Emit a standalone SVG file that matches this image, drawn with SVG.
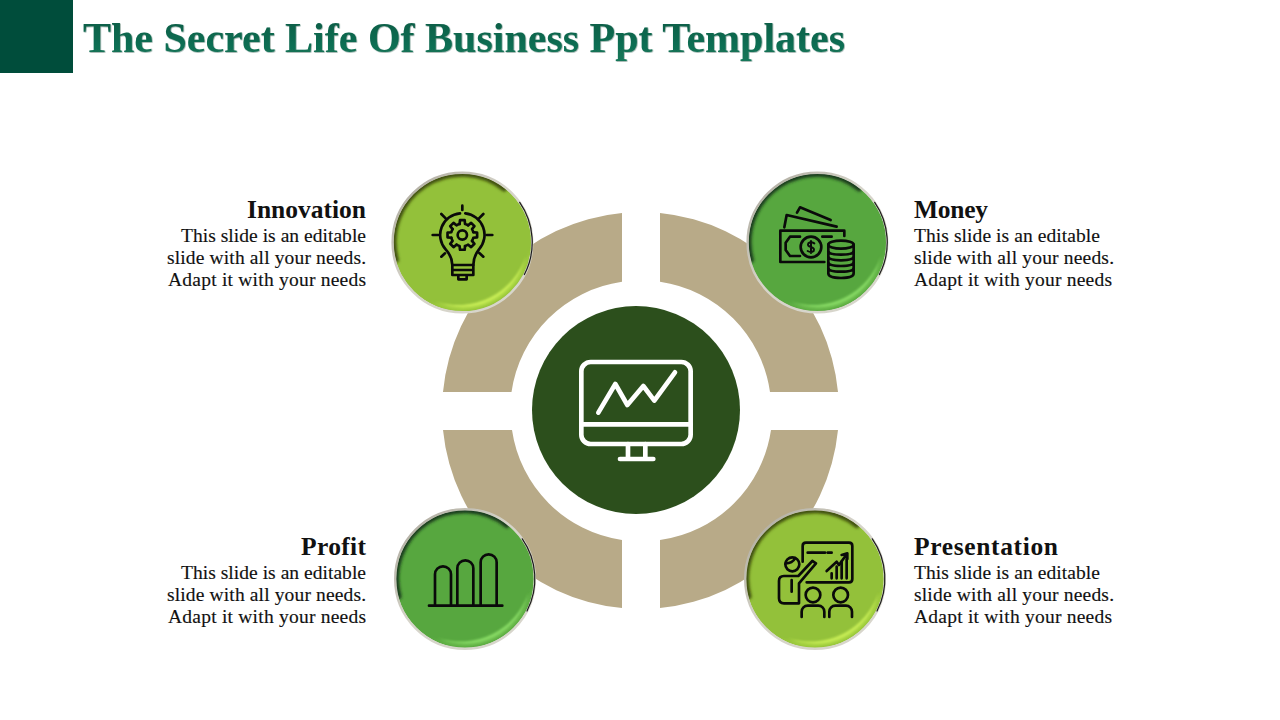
<svg xmlns="http://www.w3.org/2000/svg" width="1280" height="720" viewBox="0 0 1280 720">
<style>
text{font-family:"Liberation Serif","Times New Roman",serif;fill:#111}
.h{font-size:25.5px;font-weight:700}
.b{font-size:19.5px;stroke:#111;stroke-width:.15px}
.e{text-anchor:end}
.title{font-size:42px;font-weight:700;fill:url(#tg);filter:url(#ts)}
.seg{fill:#b8aa88}
.ic{fill:none;stroke:#0a0a0a;stroke-width:8;stroke-linecap:round;stroke-linejoin:round}
.mon{fill:none;stroke:#fff;stroke-width:14;stroke-linecap:round;stroke-linejoin:round}
.rim{fill:none;stroke:url(#rim);stroke-width:2.4}
.rimd{fill:none;stroke:#1c1c1c;stroke-width:1.2;stroke-linecap:round;filter:url(#b0)}
.lime{fill:#93c13a}.leaf{fill:#57a73f}
.shl{fill:none;stroke:#3d4c0c;stroke-width:5;stroke-linecap:round;filter:url(#b2)}
.shg{fill:none;stroke:#17391a;stroke-width:5;stroke-linecap:round;filter:url(#b2)}
.gl1{fill:#c6ec55;filter:url(#b1)}
.gl2{fill:#86d964;filter:url(#b1)}
.bd1{fill:#a5d23f;filter:url(#b1)}
.bd2{fill:#68b84a;filter:url(#b1)}
</style>
<defs>
<linearGradient id="tg" x1="0" y1="0" x2="0" y2="1"><stop offset="0" stop-color="#0a5b45"/><stop offset="1" stop-color="#14785a"/></linearGradient>
<linearGradient id="rim" x1="0" y1="0" x2="1" y2="1"><stop offset="0" stop-color="#a8a498"/><stop offset=".45" stop-color="#d6d4ca"/><stop offset="1" stop-color="#d8d6cc"/></linearGradient>
<filter id="b0" x="-20%" y="-20%" width="140%" height="140%"><feGaussianBlur stdDeviation=".4"/></filter>
<filter id="b1" x="-20%" y="-20%" width="140%" height="140%"><feGaussianBlur stdDeviation="1"/></filter>
<filter id="b2" x="-20%" y="-20%" width="140%" height="140%"><feGaussianBlur stdDeviation="1.6"/></filter>
<filter id="ts" x="-2%" y="-20%" width="104%" height="140%"><feDropShadow dx="0.6" dy="0.6" stdDeviation="0.4" flood-color="#0b4a38" flood-opacity=".6"/></filter>
<clipPath id="cc"><circle r="69"/></clipPath>
<g id="rims">
<circle class="rim" r="69.8"/>
<path class="rimd" d="M57.3,-40.2A70,70 0 0 1 62,32"/>
</g>
<path id="band" d="M-34,59A68.5,68.5 0 0 0 68,6A75,75 0 0 1 -34,59Z"/>
<path id="crescent" d="M-27.5,58.9A65,65 0 0 0 63.6,13.5A72,72 0 0 1 -27.5,58.9Z"/>
<path id="shade-l" class="shl" d="M-66,17.6A68,68 0 0 1 42,-53.5"/>
<path id="shade-g" class="shg" d="M-66,17.6A68,68 0 0 1 42,-53.5"/>
<path id="tooth" d="M33,-8.2L44.4,-7L44.4,7L33,8.2A34,34 0 0 1 29.1,17.5"/>
<path id="shoulders" d="M0,66V50A18,18 0 0 1 18,32H50A18,18 0 0 1 68,50V66"/>
</defs>
<rect width="1280" height="720" fill="#fff"/>
<rect id="corner" width="73" height="73" fill="#004d3b"/>
<text class="title" x="83" y="52" textLength="762" lengthAdjust="spacingAndGlyphs">The Secret Life Of Business Ppt Templates</text>

<g id="ring">
<path class="seg" d="M622,213.1A198.4,198.4 0 0 0 443,392H511.5A130,130 0 0 1 622,281.8Z"/>
<path class="seg" d="M660,213.1A198.4,198.4 0 0 1 838,392H770A130,130 0 0 0 660,281.8Z"/>
<path class="seg" d="M622,608A198.4,198.4 0 0 1 443,430H512A130,130 0 0 0 622,540Z"/>
<path class="seg" d="M660,608A198.4,198.4 0 0 0 838,430H771A130,130 0 0 1 660,540Z"/>
</g>

<g id="center">
<circle cx="636" cy="410" r="104" fill="#2c4f1c"/>
<g transform="translate(530,300) scale(.3333)">
<rect class="mon" x="154" y="186" width="328" height="246" rx="28"/>
<path class="mon" d="M154,373H482M294,432V476M346,432V476M270,477H370M205,338L256,252L292,315L340,258L373,302L435,217"/>
</g>
</g>

<g id="innovation">
<g transform="translate(462.4,242.5)">
<circle class="lime" r="69"/>
<g clip-path="url(#cc)"><use href="#shade-l"/><use href="#band" class="bd1"/><use href="#crescent" class="gl1"/></g>
<use href="#rims"/>
</g>
<g transform="translate(380,160) scale(.3333)" class="ic">
<path d="M247,137V150M158,225H175M320,225H337M184,162L197,175M310,162L297,175M184,290L195,280M310,290L298,279"/>
<path d="M240,160A65,65 0 0 0 197,268Q217,290 217,315M256,160A65,65 0 0 1 297,268Q280,290 280,315"/>
<path d="M217,315H280V345H217ZM217,330H280M235,345V358H260V345"/>
<circle cx="247" cy="225" r="14"/>
<g transform="translate(247,225)">
<use href="#tooth"/><use href="#tooth" transform="rotate(45)"/><use href="#tooth" transform="rotate(90)"/><use href="#tooth" transform="rotate(135)"/><use href="#tooth" transform="rotate(180)"/><use href="#tooth" transform="rotate(225)"/><use href="#tooth" transform="rotate(270)"/><use href="#tooth" transform="rotate(315)"/>
</g>
</g>
<text class="h e" x="366" y="218" textLength="119">Innovation</text>
<text class="b e" x="366" y="242" textLength="185">This slide is an editable</text>
<text class="b e" x="366" y="264" textLength="199">slide with all your needs.</text>
<text class="b e" x="366" y="286" textLength="198">Adapt it with your needs</text>
</g>

<g id="money">
<g transform="translate(817.4,242.5)">
<circle class="leaf" r="69"/>
<g clip-path="url(#cc)"><use href="#shade-g"/><use href="#band" class="bd2"/><use href="#crescent" class="gl2"/></g>
<use href="#rims"/>
</g>
<g transform="translate(735,160) scale(.3333)" class="ic">
<path d="M148,202L155,165L305,200M186,158L195,142L287,180"/>
<path d="M328,228V212H136V306H268M262,230H290M195,230H165L152,248V270L165,288H195"/>
<circle cx="228" cy="261" r="31"/>
<path stroke-width="6" d="M238,250Q228,243 220,250Q216,258 228,261Q240,265 236,273Q228,279 218,273M228,243V279"/>
<ellipse cx="318" cy="254" rx="38" ry="12"/>
<path d="M280,254V340Q280,354 318,354Q356,354 356,340V254M280,272Q280,284 318,284Q356,284 356,272M280,289Q280,301 318,301Q356,301 356,289M280,306Q280,318 318,318Q356,318 356,306M280,323Q280,335 318,335Q356,335 356,323"/>
</g>
<text class="h" x="914" y="218" textLength="74">Money</text>
<text class="b" x="914" y="242" textLength="186">This slide is an editable</text>
<text class="b" x="914" y="264" textLength="200">slide with all your needs.</text>
<text class="b" x="914" y="286" textLength="198">Adapt it with your needs</text>
</g>

<g id="profit">
<g transform="translate(465,579)">
<circle class="leaf" r="69"/>
<g clip-path="url(#cc)"><use href="#shade-g"/><use href="#band" class="bd2"/><use href="#crescent" class="gl2"/></g>
<use href="#rims"/>
</g>
<g transform="translate(380,495) scale(.3333)" class="ic">
<path d="M147,332H367M165,332V238A24,24 0 0 1 213,238V332M232,332V220A24,24 0 0 1 280,220V332M302,332V202A24,24 0 0 1 350,202V332"/>
</g>
<text class="h e" x="366" y="555" textLength="65">Profit</text>
<text class="b e" x="366" y="579" textLength="185">This slide is an editable</text>
<text class="b e" x="366" y="601" textLength="199">slide with all your needs.</text>
<text class="b e" x="366" y="623" textLength="198">Adapt it with your needs</text>
</g>

<g id="presentation">
<g transform="translate(815,579)">
<circle class="lime" r="69"/>
<g clip-path="url(#cc)"><use href="#shade-l"/><use href="#band" class="bd1"/><use href="#crescent" class="gl1"/></g>
<use href="#rims"/>
</g>
<g transform="translate(735,495) scale(.3333)" class="ic">
<path d="M203,200V153Q203,143 213,143H342Q352,143 352,153V252Q352,262 342,262H215"/>
<path d="M218,173H270M278,173H290M275,228L305,200L312,210L335,178M320,180L337,175L337,192"/>
<path d="M290,235V250M305,215V250M320,200V250M335,192V250"/>
<circle cx="172" cy="208" r="21"/>
<path d="M152,205Q172,205 180,190"/>
<path d="M232,198L243,205L192,265V325H147Q132,325 132,310V258Q132,243 147,243H190ZM170,255V290"/>
<circle cx="234" cy="300" r="22"/><circle cx="317" cy="300" r="22"/>
<use href="#shoulders" x="200" y="300"/><use href="#shoulders" x="283" y="300"/>
</g>
<text class="h" x="914" y="555" textLength="144">Presentation</text>
<text class="b" x="914" y="579" textLength="186">This slide is an editable</text>
<text class="b" x="914" y="601" textLength="200">slide with all your needs.</text>
<text class="b" x="914" y="623" textLength="198">Adapt it with your needs</text>
</g>
</svg>
